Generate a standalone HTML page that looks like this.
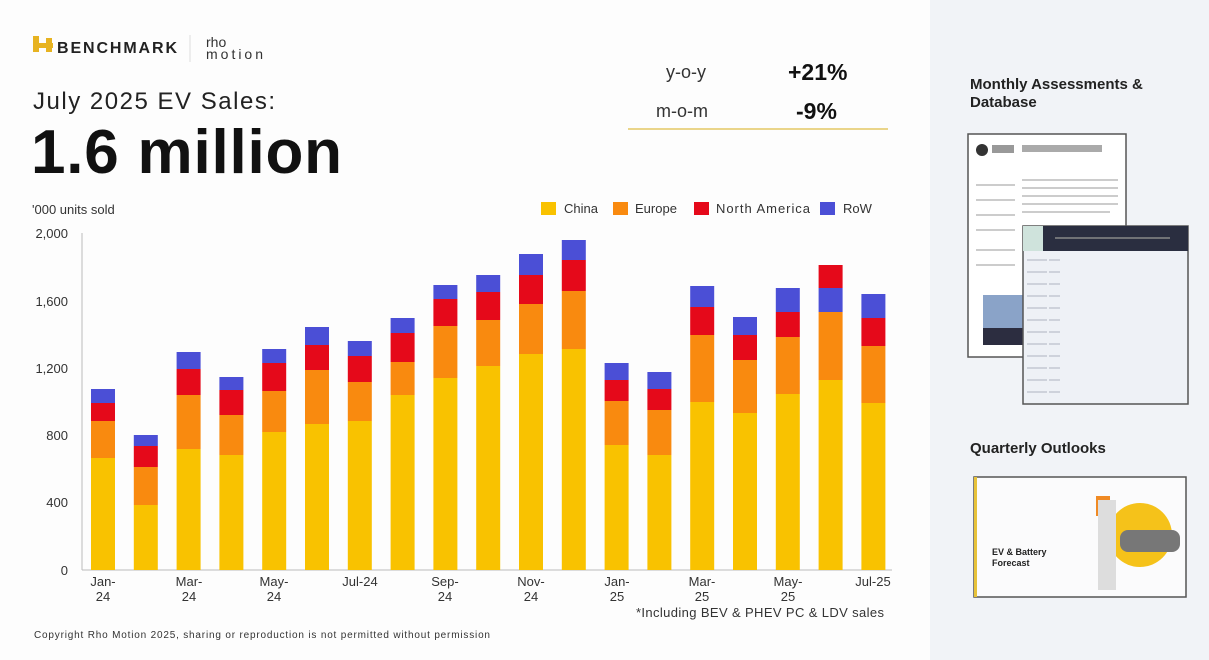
<!DOCTYPE html>
<html><head><meta charset="utf-8"><style>
body{margin:0;width:1209px;height:660px;overflow:hidden;background:#fdfdfd;font-family:"Liberation Sans",sans-serif;}
.abs{position:absolute}
</style></head><body>
<div class="abs" style="left:930px;top:0;width:279px;height:660px;background:#f1f3f7"></div>
<svg class="abs" style="left:0;top:0" width="1209" height="660" font-family="Liberation Sans, sans-serif">
<rect x="33" y="36" width="6" height="16" fill="#e7b321"/><rect x="33" y="43" width="20" height="5" fill="#e7b321"/><rect x="46" y="38" width="6" height="14" fill="#e7b321"/>
<text x="57" y="53" font-size="16" font-weight="bold" fill="#222" textLength="120">BENCHMARK</text>
<line x1="190" y1="35" x2="190" y2="62" stroke="#ddd"/>
<text x="206" y="47" font-size="14" fill="#333">rho</text><text x="206" y="59" font-size="14" fill="#333" textLength="57">motion</text>
<text x="33" y="109" font-size="24" fill="#222" textLength="242">July 2025 EV Sales:</text>
<text x="31" y="173" font-size="62" font-weight="bold" fill="#111" textLength="311">1.6 million</text>
<text x="666" y="78" font-size="18" fill="#333">y-o-y</text><text x="788" y="80" font-size="23" font-weight="bold" fill="#111">+21%</text>
<text x="656" y="117" font-size="18" fill="#333">m-o-m</text><text x="796" y="119" font-size="23" font-weight="bold" fill="#111">-9%</text>
<line x1="628" y1="129" x2="888" y2="129" stroke="#ead58a" stroke-width="2"/>
<text x="32" y="214" font-size="13" fill="#333">'000 units sold</text>
<rect x="541" y="202" width="15" height="13" fill="#f9c200"/><text x="564" y="213" font-size="13" fill="#333">China</text>
<rect x="613" y="202" width="15" height="13" fill="#f98a0f"/><text x="635" y="213" font-size="13" fill="#333">Europe</text>
<rect x="694" y="202" width="15" height="13" fill="#e5091a"/><text x="716" y="213" font-size="13" fill="#333" textLength="94">North America</text>
<rect x="820" y="202" width="15" height="13" fill="#4b4fd6"/><text x="843" y="213" font-size="13" fill="#333">RoW</text>
<g font-size="13" fill="#333" text-anchor="end">
<text x="68" y="238">2,000</text><text x="68" y="306">1,600</text><text x="68" y="373">1,200</text><text x="68" y="440">800</text><text x="68" y="507">400</text><text x="68" y="575">0</text></g>
<line x1="82" y1="233" x2="82" y2="570" stroke="#bbb"/><line x1="82" y1="570" x2="892" y2="570" stroke="#bbb"/>
<g id="bars"></g>
<g font-size="13" fill="#333" text-anchor="middle">
<text x="103" y="586">Jan-</text><text x="103" y="601">24</text>
<text x="189" y="586">Mar-</text><text x="189" y="601">24</text>
<text x="274" y="586">May-</text><text x="274" y="601">24</text>
<text x="360" y="586">Jul-24</text>
<text x="445" y="586">Sep-</text><text x="445" y="601">24</text>
<text x="531" y="586">Nov-</text><text x="531" y="601">24</text>
<text x="617" y="586">Jan-</text><text x="617" y="601">25</text>
<text x="702" y="586">Mar-</text><text x="702" y="601">25</text>
<text x="788" y="586">May-</text><text x="788" y="601">25</text>
<text x="873" y="586">Jul-25</text></g>
<text x="884" y="617" font-size="13" fill="#333" text-anchor="end" textLength="248">*Including BEV &amp; PHEV PC &amp; LDV sales</text>
<text x="34" y="638" font-size="10" fill="#333" textLength="456">Copyright Rho Motion 2025, sharing or reproduction is not permitted without permission</text>
<text x="970" y="89" font-size="15" font-weight="bold" fill="#222">Monthly Assessments &amp;</text>
<text x="970" y="107" font-size="15" font-weight="bold" fill="#222">Database</text>
<rect x="968" y="134" width="158" height="223" fill="#fff" stroke="#555" stroke-width="1.5"/>
<circle cx="982" cy="150" r="6" fill="#333"/><rect x="992" y="145" width="22" height="8" fill="#999"/><rect x="1022" y="145" width="80" height="7" fill="#aaa"/>
<g stroke="#ccc" stroke-width="2"><line x1="1022" y1="180" x2="1118" y2="180"/><line x1="1022" y1="188" x2="1118" y2="188"/><line x1="1022" y1="196" x2="1118" y2="196"/><line x1="1022" y1="204" x2="1118" y2="204"/><line x1="1022" y1="212" x2="1110" y2="212"/>
<line x1="976" y1="185" x2="1015" y2="185"/><line x1="976" y1="200" x2="1015" y2="200"/><line x1="976" y1="215" x2="1015" y2="215"/><line x1="976" y1="230" x2="1015" y2="230"/><line x1="976" y1="250" x2="1015" y2="250"/><line x1="976" y1="265" x2="1015" y2="265"/></g>
<rect x="983" y="295" width="40" height="50" fill="#8aa3c8"/><rect x="983" y="328" width="40" height="17" fill="#2c2d40"/>
<rect x="1023" y="226" width="165" height="178" fill="#eef1f6" stroke="#555" stroke-width="1.5"/>
<rect x="1023" y="226" width="165" height="25" fill="#2a2e40"/><rect x="1023" y="226" width="20" height="25" fill="#cfe3dc"/>
<line x1="1055" y1="238" x2="1170" y2="238" stroke="#888" stroke-width="1.5"/>
<g stroke="#c4c8d2" stroke-width="1.5" stroke-dasharray="20 2"><line x1="1027" y1="260" x2="1060" y2="260"/><line x1="1027" y1="272" x2="1060" y2="272"/><line x1="1027" y1="284" x2="1060" y2="284"/><line x1="1027" y1="296" x2="1060" y2="296"/><line x1="1027" y1="308" x2="1060" y2="308"/><line x1="1027" y1="320" x2="1060" y2="320"/><line x1="1027" y1="332" x2="1060" y2="332"/><line x1="1027" y1="344" x2="1060" y2="344"/><line x1="1027" y1="356" x2="1060" y2="356"/><line x1="1027" y1="368" x2="1060" y2="368"/><line x1="1027" y1="380" x2="1060" y2="380"/><line x1="1027" y1="392" x2="1060" y2="392"/></g>
<text x="970" y="453" font-size="15" font-weight="bold" fill="#222">Quarterly Outlooks</text>
<rect x="974" y="477" width="212" height="120" fill="#fbfbfc" stroke="#555" stroke-width="1.5"/>
<rect x="974" y="477" width="3" height="120" fill="#e7c23a"/>
<circle cx="1140" cy="535" r="32" fill="#f5c21a"/>
<rect x="1096" y="496" width="14" height="20" fill="#f08a24"/><rect x="1098" y="500" width="18" height="90" fill="#ddd"/>
<rect x="1120" y="530" width="60" height="22" rx="8" fill="#777"/>
<text x="992" y="555" font-size="9" font-weight="bold" fill="#222">EV &amp; Battery</text>
<text x="992" y="566" font-size="9" font-weight="bold" fill="#222">Forecast</text>
</svg>
<script>
var tops=[[458,421,403,389],[505,467,446,435],[449,395,369,352],[455,415,390,377],[432,391,363,349],[424,370,345,327],[421,382,356,341],[395,362,333,318],[378,326,299,285],[366,320,292,275],[354,304,275,254],[349,291,260,240],[445,401,380,363],[455,410,389,372],[402,335,307,286],[413,360,335,317],[394,337,312,288],[380,312,265,288],[403,346,318,294]];
var c=["#f9c200","#f98a0f","#e5091a","#4b4fd6"],s="";
tops.forEach(function(t,i){var x=91+i*42.8;var prev=570;
 if(i==17){s+=r(x,380,570-380,c[0])+r(x,312,68,c[1])+r(x,288,24,c[3])+r(x,265,23,c[2]);return;}
 for(var k=0;k<4;k++){s+=r(x,t[k],prev-t[k],c[k]);prev=t[k];}});
function r(x,y,h,f){return '<rect x="'+x.toFixed(1)+'" y="'+y+'" width="24" height="'+h+'" fill="'+f+'"/>';}
document.getElementById("bars").innerHTML=s;
</script>
</body></html>
